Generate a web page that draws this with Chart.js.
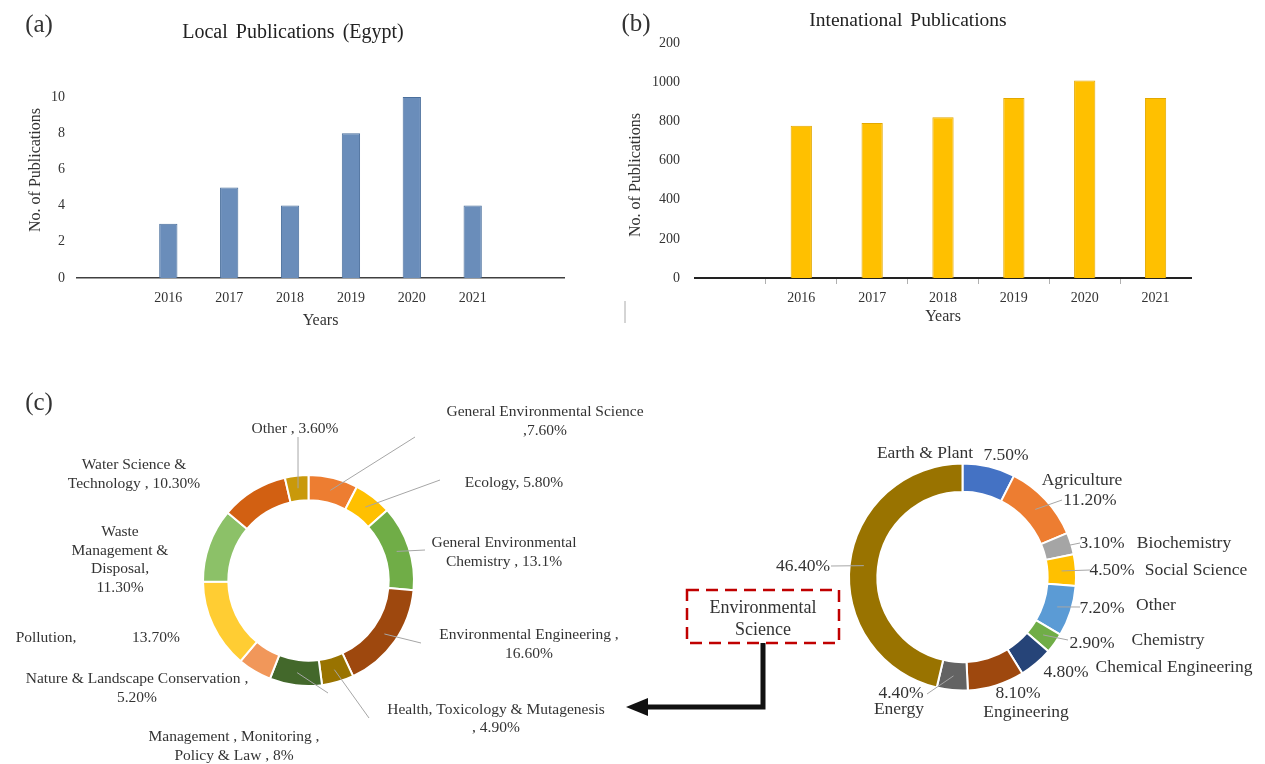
<!DOCTYPE html>
<html>
<head>
<meta charset="utf-8">
<script src="https://cdn.jsdelivr.net/npm/chart.js@4.4.0/dist/chart.umd.min.js"></script>
<style>
  body { margin: 0; width: 1265px; height: 764px; background: #fff; position: relative; overflow: hidden;
         font-family: "Liberation Serif", "Times New Roman", serif; color: #333; }
  .box { position: absolute; }
  .txt { position: absolute; white-space: nowrap; line-height: 1; transform: translate(-50%, -50%); }
  .rot { transform: translate(-50%, -50%) rotate(-90deg); }
</style>
</head>
<body>
<div class="box" style="left:0;top:0;width:620px;height:340px"><canvas id="chartA"></canvas></div>
<div class="box" style="left:620px;top:0;width:645px;height:340px"><canvas id="chartB"></canvas></div>
<div class="box" style="left:0;top:380px;width:680px;height:384px"><canvas id="chartC1"></canvas></div>
<div class="box" style="left:600px;top:380px;width:665px;height:384px"><canvas id="chartC2"></canvas></div>

<div class="txt" style="left:39px;top:23px;font-size:25px">(a)</div>
<div class="txt" style="left:636px;top:22px;font-size:25px">(b)</div>
<div class="txt" style="left:39px;top:401px;font-size:25px">(c)</div>
<div class="txt" style="left:293px;top:31px;font-size:20px;word-spacing:3px;color:#222">Local Publications (Egypt)</div>
<div class="txt" style="left:908px;top:20px;font-size:19.5px;word-spacing:3px;color:#222">Intenational Publications</div>
<div class="txt rot" style="left:35px;top:170px;font-size:16px">No. of Publications</div>
<div class="txt rot" style="left:635px;top:175px;font-size:16px">No. of Publications</div>

<svg class="box" style="left:0;top:0" width="1265" height="764">
  <line x1="625" y1="301" x2="625" y2="323" stroke="#aaa" stroke-width="1"/>
  <rect x="687" y="590" width="152" height="53" fill="none" stroke="#c00000" stroke-width="2.5" stroke-dasharray="12 7"/>
  <polyline points="763,643 763,707 646,707" fill="none" stroke="#111" stroke-width="5"/>
  <polygon points="626,707 648,698 648,716" fill="#111"/>
</svg>
<div class="txt" style="left:763px;top:607px;font-size:18px">Environmental</div>
<div class="txt" style="left:763px;top:629px;font-size:18px">Science</div>

<script>
Chart.defaults.font.family = '"Liberation Serif", "Times New Roman", serif';
Chart.defaults.color = '#333';

// (a) local publications
const localYears = ['', '2016', '2017', '2018', '2019', '2020', '2021', ''];
const localCounts = [null, 3, 5, 4, 8, 10, 4, null];

// (b) international publications (top tick is printed "200" in the source)
const intlYears = ['', '2016', '2017', '2018', '2019', '2020', '2021'];
const intlCounts = [null, 790, 805, 835, 935, 1025, 935];
const intlTickLabels = ['0', '200', '400', '600', '800', '1000', '200'];

// (c) left ring: Environmental Science sub-areas
const envAreas = ['General Environmental Science', 'Ecology', 'General Environmental Chemistry',
  'Environmental Engineering', 'Health, Toxicology & Mutagenesis', 'Management, Monitoring, Policy & Law',
  'Nature & Landscape Conservation', 'Pollution', 'Waste Management & Disposal',
  'Water Science & Technology', 'Other'];
const envShares = [7.6, 5.8, 13.1, 16.6, 4.9, 8, 5.2, 13.7, 11.3, 10.3, 3.6];
const envLabels = [
  ['General Environmental Science', ',7.60%'],
  ['Ecology, 5.80%'],
  ['General Environmental', 'Chemistry , 13.1%'],
  ['Environmental Engineering ,', '16.60%'],
  ['Health, Toxicology & Mutagenesis', ', 4.90%'],
  ['Management , Monitoring ,', 'Policy & Law , 8%'],
  ['Nature & Landscape Conservation ,', '5.20%'],
  ['Pollution,', '13.70%'],
  ['Waste', 'Management &', 'Disposal,', '11.30%'],
  ['Water Science &', 'Technology , 10.30%'],
  ['Other , 3.60%']
];

// (c) right ring: all subject areas
const subjects = ['Earth & Plant', 'Agriculture', 'Biochemistry', 'Social Science', 'Other', 'Chemistry',
  'Chemical Engineering', 'Engineering', 'Energy', 'Environmental Science'];
const subjectShares = [7.5, 11.2, 3.1, 4.5, 7.2, 2.9, 4.8, 8.1, 4.4, 46.4];
const subjectLabels = [
  ['Earth & Plant', '7.50%'],
  ['Agriculture', '11.20%'],
  ['3.10%', 'Biochemistry'],
  ['4.50%', 'Social Science'],
  ['7.20%', 'Other'],
  ['2.90%', 'Chemistry'],
  ['4.80%', 'Chemical Engineering'],
  ['8.10%', 'Engineering'],
  ['4.40%', 'Energy'],
  ['46.40%']
];

// label placement on the page (text centres, leader line ends)
const envSpots = [
  { at: [[545, 412], [545, 431]], lead: [415, 437] },
  { at: [[514, 483]], lead: [440, 480] },
  { at: [[504, 543], [504, 562]], lead: [425, 550] },
  { at: [[529, 635], [529, 654]], lead: [421, 643] },
  { at: [[496, 710], [496, 728]], lead: [369, 718] },
  { at: [[234, 737], [234, 756]], lead: [328, 693] },
  { at: [[137, 679], [137, 698]], lead: null },
  { at: [[46, 638], [156, 638]], lead: null },
  { at: [[120, 532], [120, 551], [120, 569], [120, 588]], lead: null },
  { at: [[134, 465], [134, 484]], lead: null },
  { at: [[295, 429]], lead: [298, 437] }
];
const subjectSpots = [
  { at: [[925, 453], [1006, 455]], lead: null },
  { at: [[1082, 480], [1090, 500]], lead: [1062, 500] },
  { at: [[1102, 543], [1184, 543]], lead: [1080, 543] },
  { at: [[1112, 570], [1196, 570]], lead: [1090, 570] },
  { at: [[1102, 608], [1156, 605]], lead: [1080, 607] },
  { at: [[1092, 643], [1168, 640]], lead: [1068, 640] },
  { at: [[1066, 672], [1174, 667]], lead: null },
  { at: [[1018, 693], [1026, 712]], lead: null },
  { at: [[901, 693], [899, 709]], lead: [927, 694] },
  { at: [[803, 566]], lead: [831, 566] }
];

function makeCallouts(texts, spots, offX, offY, size) {
    return {
        id: 'callouts',
        afterDatasetsDraw(chart) {
            const ctx = chart.ctx;
            const meta = chart.getDatasetMeta(0);
            ctx.save();
            ctx.font = size + 'px "Liberation Serif", "Times New Roman", serif';
            ctx.fillStyle = '#333';
            ctx.textAlign = 'center';
            ctx.textBaseline = 'middle';
            texts.forEach((lines, i) => {
                const spot = spots[i];
                const arc = meta.data[i];
                if (spot.lead) {
                    const a = (arc.startAngle + arc.endAngle) / 2;
                    const r = (arc.innerRadius + arc.outerRadius) / 2;
                    ctx.beginPath();
                    ctx.moveTo(arc.x + Math.cos(a) * r, arc.y + Math.sin(a) * r);
                    ctx.lineTo(spot.lead[0] - offX, spot.lead[1] - offY);
                    ctx.strokeStyle = '#a6a6a6';
                    ctx.lineWidth = 1;
                    ctx.stroke();
                }
                lines.forEach((t, j) => ctx.fillText(t, spot.at[j][0] - offX, spot.at[j][1] - offY));
            });
            ctx.restore();
        }
    };
}

const tickFont = { size: 14 };

new Chart(document.getElementById('chartA'), {
    type: 'bar',
    data: {
        labels: localYears,
        datasets: [{
            data: localCounts,
            backgroundColor: '#6a8dba',
            borderColor: '#4a6f9c',
            borderWidth: 1,
            categoryPercentage: 1,
            barPercentage: 0.3
        }]
    },
    options: {
        responsive: true, maintainAspectRatio: false, animation: false,
        layout: { padding: { left: 20, right: 56, top: 97, bottom: 0 } },
        plugins: { legend: { display: false }, tooltip: { enabled: false } },
        scales: {
            x: {
                grid: { display: false, drawTicks: false },
                border: { display: true, color: '#404040', width: 1.5 },
                ticks: { font: tickFont, padding: 12, maxRotation: 0, autoSkip: false },
                title: { display: true, text: 'Years', font: { size: 16 }, padding: { top: 0, bottom: 10 } },
                afterFit: (s) => { s.height = 62; }
            },
            y: {
                min: 0, max: 10,
                grid: { display: false, drawTicks: false },
                border: { display: false },
                ticks: { stepSize: 2, font: tickFont, padding: 12 },
                afterFit: (s) => { s.width = 57; }
            }
        }
    }
});

new Chart(document.getElementById('chartB'), {
    type: 'bar',
    data: {
        labels: intlYears,
        datasets: [{
            data: intlCounts,
            backgroundColor: '#ffc000',
            borderColor: '#e3a800',
            borderWidth: 1,
            categoryPercentage: 1,
            barPercentage: 0.3
        }]
    },
    options: {
        responsive: true, maintainAspectRatio: false, animation: false,
        layout: { padding: { left: 20, right: 74, top: 43, bottom: 0 } },
        plugins: { legend: { display: false }, tooltip: { enabled: false } },
        scales: {
            x: {
                grid: {
                    display: true, drawOnChartArea: false, drawTicks: true, tickLength: 6, offset: true,
                    color: (c) => (c.index === 0 || c.index === undefined) ? 'rgba(0,0,0,0)' : '#b0b0b0'
                },
                border: { display: true, color: '#222', width: 2 },
                ticks: { font: tickFont, padding: 6, maxRotation: 0, autoSkip: false },
                title: { display: true, text: 'Years', font: { size: 16 }, padding: { top: 0, bottom: 14 } },
                afterFit: (s) => { s.height = 62; }
            },
            y: {
                min: 0, max: 1220,
                grid: { display: false, drawTicks: false },
                border: { display: false },
                ticks: {
                    stepSize: 200, includeBounds: false, font: tickFont, padding: 15,
                    callback: (v, i) => intlTickLabels[i]
                },
                afterFit: (s) => { s.width = 55; }
            }
        }
    }
});

new Chart(document.getElementById('chartC1'), {
    type: 'doughnut',
    data: {
        labels: envAreas,
        datasets: [{
            data: envShares,
            backgroundColor: ['#ed7d31', '#ffc000', '#70ad47', '#9e480e', '#997300', '#43682b',
                '#f1975a', '#ffcd33', '#8cc168', '#d26012', '#c9990a'],
            borderColor: '#fff',
            borderWidth: 2
        }]
    },
    options: {
        responsive: true, maintainAspectRatio: false, animation: false,
        cutout: '76%',
        layout: { padding: { left: 202, right: 265, top: 94, bottom: 77 } },
        plugins: { legend: { display: false }, tooltip: { enabled: false } }
    },
    plugins: [makeCallouts(envLabels, envSpots, 0, 380, 15.5)]
});

new Chart(document.getElementById('chartC2'), {
    type: 'doughnut',
    data: {
        labels: subjects,
        datasets: [{
            data: subjectShares,
            backgroundColor: ['#4472c4', '#ed7d31', '#a5a5a5', '#ffc000', '#5b9bd5', '#70ad47',
                '#264478', '#9e480e', '#636363', '#997300'],
            borderColor: '#fff',
            borderWidth: 2
        }]
    },
    options: {
        responsive: true, maintainAspectRatio: false, animation: false,
        cutout: '75%',
        layout: { padding: { left: 248, right: 188, top: 82, bottom: 72 } },
        plugins: { legend: { display: false }, tooltip: { enabled: false } }
    },
    plugins: [makeCallouts(subjectLabels, subjectSpots, 600, 380, 17.5)]
});
</script>
</body>
</html>
